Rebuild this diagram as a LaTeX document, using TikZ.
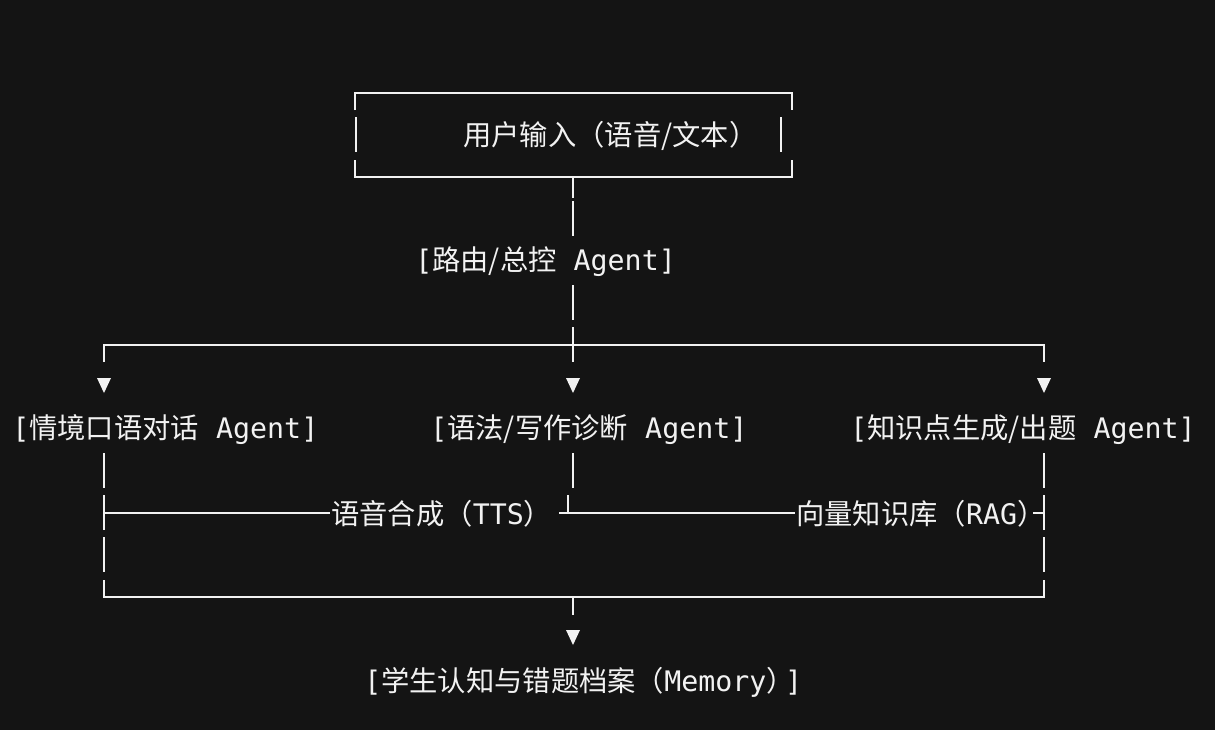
\documentclass[tikz,border=0pt]{standalone}
\usepackage{fontspec}
\setmainfont{DejaVu Sans Mono}
\newfontfamily\cjk{Noto Sans CJK SC}
\definecolor{bg}{HTML}{141414}
\definecolor{fg}{HTML}{F2F2F2}
\newcommand{\vbar}[2]{\draw[ln] (#1,#2-18) -- (#1,#2+17);}
\newcommand{\tri}[2]{\fill[fg] (#1-7,#2-8) -- (#1+7,#2-8) -- (#1,#2+7) -- cycle;}
\begin{document}
\begin{tikzpicture}[x=0.02cm,y=-0.02cm,
  lbl/.style={anchor=west, inner sep=0, font=\fontsize{16.1pt}{19pt}\selectfont, text=fg},
  ln/.style={draw=fg, line width=0.04cm}]
\fill[bg] (0,0) rectangle (1215,730);
\useasboundingbox (0,0) rectangle (1215,730);
% top box
\draw[ln] (355,110) -- (355,93) -- (792,93) -- (792,110);
\vbar{356}{135}
\vbar{781}{135}
\node[lbl] (input) at (463,136) {\cjk 用户输入（语音/文本）};
\draw[ln] (355,160) -- (355,177) -- (792,177) -- (792,160);
\draw[ln] (573,177) -- (573,198);
\vbar{573}{219}
\node[lbl] (router) at (415,262) {[{\cjk 路由/总控} Agent]};
\vbar{573}{303}
% split
\draw[ln] (104,362) -- (104,345) -- (1044,345) -- (1044,362);
\draw[ln] (573,327) -- (573,362);
\tri{104}{386}
\tri{573}{386}
\tri{1044}{386}
\node[lbl] (a1) at (12,430) {[{\cjk 情境口语对话} Agent]};
\node[lbl] (a2) at (430,430) {[{\cjk 语法/写作诊断} Agent]};
\node[lbl] (a3) at (850,430) {[{\cjk 知识点生成/出题} Agent]};
\vbar{104}{471}
\vbar{573}{471}
\vbar{1044}{471}
% tools row
\vbar{104}{513}
\draw[ln] (104,513) -- (330,513);
\node[lbl] (tts) at (331,514) {{\cjk 语音合成（}TTS{\cjk ）}};
\draw[ln] (559,513) -- (795,513);
\draw[ln] (568,495) -- (568,513);
\node[lbl] (rag) at (796,514) {{\cjk 向量知识库（}RAG{\cjk ）}};
\draw[ln] (1033,513) -- (1044,513);
\vbar{1044}{513}
\vbar{104}{555}
\vbar{1044}{555}
% merge
\draw[ln] (104,580) -- (104,597) -- (1044,597) -- (1044,580);
\draw[ln] (573,597) -- (573,615);
\tri{573}{638}
\node[lbl] (mem) at (364,682) {[{\cjk 学生认知与错题档案（}Memory{\cjk ）}\kern-5.5pt]};
\end{tikzpicture}
\end{document}
